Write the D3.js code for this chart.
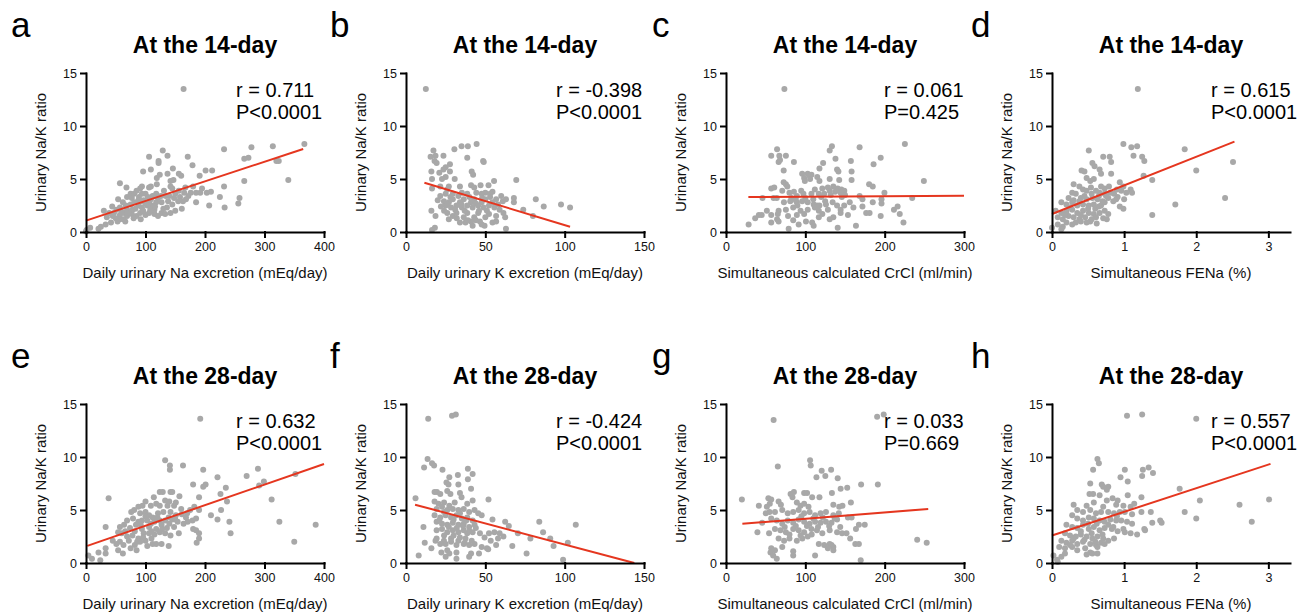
<!DOCTYPE html>
<html>
<head>
<meta charset="utf-8">
<script src="https://cdn.jsdelivr.net/npm/d3@7"></script>
<style>
  body { margin: 0; background: #fff; }
  svg { font-family: "Liberation Sans", Arial, Helvetica, sans-serif; }
</style>
</head>
<body>
<div id="chart"></div>
<script>
// ---- data: [x, urinary Na/K ratio] ----
const na14 = [[164,13.5],[367,8.3],[314,8.1],[278,8.0],[273,7.0],[266,6.9],[324,6.7],[320,6.7],[340,4.9],[266,4.8],[232,7.8],[232,4.3],[258,3.2],[256,2.7],[233,2.3],[225,3.3],[212,5.8],[201,5.8],[207,2.5],[191,5.3],[210,3.8],[203,3.7],[192,3.7],[185,3.7],[185,2.8],[179,6.3],[171,7.1],[137,7.2],[129,7.7],[106,7.1],[122,6.7],[122,6.5],[96,5.7],[109,5.9],[146,6.0],[156,5.5],[124,5.4],[119,5.1],[137,5.5],[142,4.8],[147,4.9],[160,5.3],[57,4.6],[68,4.2],[94,4.3],[91,4.1],[109,4.3],[106,4.2],[119,4.5],[142,4.3],[145,4.1],[156,3.9],[167,4.2],[165,3.7],[176,3.7],[75,3.6],[81,3.6],[69,3.3],[77,3.2],[89,3.3],[100,3.6],[118,3.6],[131,3.9],[134,3.4],[148,3.2],[158,3.3],[163,2.9],[168,3.1],[145,2.6],[161,2.2],[136,2.3],[127,2.8],[112,2.5],[106,2.8],[94,2.9],[81,2.8],[67,2.5],[57,2.3],[51,2.1],[30,2.0],[39,1.8],[47,1.8],[57,1.6],[64,1.8],[69,1.5],[77,1.7],[85,1.5],[91,1.8],[100,1.6],[106,1.8],[115,1.7],[121,1.5],[127,1.8],[133,1.7],[142,1.8],[94,2.3],[103,2.5],[57,1.2],[63,1.2],[50,1.3],[42,0.9],[33,0.7],[25,0.5],[21,0.3],[7,0.4],[1,0.2],[0,0.05],[69,2.1],[78,2.1],[88,2.5],[118,2.8],[121,3.2],[109,3.1],[94,3.6],[85,3.9],[54,3.1],[62,2.8],[115,2.1],[72,1.8],[60,1.9],[83,2.2],[96,2.0],[108,2.1],[45,1.5],[88,3.0],[100,2.7],[112,3.4],[35,1.4],[44,2.4],[53,1.0],[66,1.0],[75,2.6],[80,1.3],[92,1.2],[97,3.0],[104,3.3],[116,2.4],[126,3.4],[138,2.9],[150,3.6],[155,2.9],[140,3.4],[130,2.2],[150,2.0],[172,3.4],[180,4.3],[195,4.1]];
const k14 = [[12.5,13.5],[44.5,8.3],[39,8.1],[35,8.1],[30.5,7.8],[17.3,7.7],[23.6,7.2],[18.6,7.2],[15.5,7.1],[38.6,7.0],[48.6,6.7],[49,6.6],[18,6.7],[19.3,6.5],[27.7,6.4],[25,6.1],[23.6,5.9],[21,5.6],[16,5.7],[27.7,5.7],[41.4,5.7],[42.3,5.4],[25,5.2],[22.7,5.0],[16.4,5.0],[30.7,5.0],[69.5,4.9],[55.5,4.8],[52,4.4],[47,4.4],[41,4.4],[43,4.2],[34,4.3],[27,4.3],[26,4.0],[21.6,4.3],[16.4,4.1],[54.5,3.8],[53,3.6],[50,3.7],[47.7,3.6],[44.3,3.7],[38.6,3.6],[35.2,3.7],[29.5,3.6],[25,3.6],[21.6,3.4],[68,3.2],[63,3.1],[81.8,3.1],[97.7,2.6],[103.4,2.3],[86.8,2.4],[73.9,2.1],[68,2.8],[61,2.9],[56.8,3.1],[54.5,2.8],[50,3.1],[47.7,2.8],[43,3.1],[41,2.8],[36.4,3.1],[34,2.8],[29.5,3.1],[27,2.8],[23.9,2.9],[25,2.5],[28.4,2.3],[31.8,2.5],[35.2,2.3],[38.6,2.5],[42,2.3],[45.5,2.5],[48.9,2.3],[52.3,2.5],[55.7,2.3],[59,2.1],[61.4,1.8],[80,1.5],[62.5,1.4],[56.8,1.5],[52.3,1.7],[50,1.4],[45.5,1.8],[43,1.4],[38.6,1.8],[36.4,1.4],[31.8,1.8],[29.5,1.5],[26,1.8],[34,0.9],[37.5,0.9],[42,0.6],[47.7,0.7],[49.5,0.6],[54.5,0.9],[63,0.3],[16,2.0],[18.6,1.5],[18.2,0.4],[16.4,0.2],[27,1.2],[41,1.0],[46.6,1.0],[56.8,1.0],[20,3.0],[22,2.4],[24,2.0],[26,2.6],[28,3.3],[31,2.1],[33,3.4],[35,2.6],[37,2.0],[40,3.3],[44,2.7],[46,2.0],[48,3.2],[51,2.0],[53,3.3],[58,2.6],[60,3.4],[32,1.3],[39,1.1],[44,1.1]];
const crcl14 = [[73.6,13.5],[225.5,8.3],[168.4,8.0],[133.5,8.1],[130.7,7.7],[64.4,7.8],[57,7.2],[67.2,7.2],[75.5,7.2],[66.3,6.6],[68.1,6.8],[85.6,6.6],[195,7.0],[186,6.4],[157.4,6.7],[138,6.9],[122.4,6.5],[117.8,6.0],[140,5.9],[141.7,5.7],[158.3,5.7],[72.7,5.8],[96,5.5],[103,5.5],[107.7,5.4],[98.5,5.1],[105.4,5.3],[99.4,4.8],[106,5.0],[115,5.2],[117.8,4.8],[130.7,5.0],[142.7,4.9],[158.3,4.9],[249.4,4.8],[180.4,4.5],[185,4.3],[72.7,4.7],[75.5,4.5],[77.3,4.3],[57,4.1],[60.8,4.2],[70.9,3.9],[80,3.7],[85.6,3.8],[94.8,3.9],[97.6,3.6],[112,4.0],[121.4,4.1],[128.4,4.2],[135.3,4.3],[140.8,4.1],[145.4,4.0],[130.7,3.9],[137.6,3.8],[144.5,3.7],[149.1,3.9],[117,3.6],[123.8,3.6],[107.7,3.6],[89.3,3.4],[82.4,3.2],[46,3.2],[60,3.2],[64,3.2],[168.4,3.4],[199.7,3.7],[234.7,3.2],[172,3.1],[185,2.8],[196,3.1],[196,2.7],[73,2.8],[81,2.9],[89.3,2.8],[96,2.9],[103,2.8],[110.5,2.6],[117.8,2.5],[126,2.6],[134.4,2.8],[140,2.5],[149,2.5],[156,2.8],[160.6,2.3],[144.5,2.1],[128.4,2.1],[117,2.0],[103,2.1],[94,2.0],[84.7,2.3],[75.5,2.1],[66.3,2.0],[51.5,2.0],[41.4,1.6],[45,1.6],[36.8,1.3],[57,1.6],[65.3,1.7],[78.2,1.5],[89.3,1.6],[98.5,1.7],[64.4,1.2],[57,0.9],[66.3,1.0],[117,1.4],[130.7,1.2],[135.3,1.4],[144.5,1.8],[153.7,1.6],[172,2.4],[176.7,1.8],[181,1.8],[211.7,2.1],[216.3,2.4],[219,1.7],[223.7,0.9],[195,1.5],[108.6,0.9],[110.5,0.6],[100.8,1.0],[79,0.3],[28.5,0.7],[140.8,0.4],[163.8,0.6],[91.6,0.7],[84.7,1.1],[121.4,1.7],[114.6,2.5],[88,3.0],[100,3.2],[110,3.1],[120,3.3],[132,3.5],[146,3.3],[125,2.9],[112,2.3],[90,2.5],[150,3.5]];
const fena14 = [[1.19,13.5],[0.99,8.3],[1.18,8.1],[1.10,8.0],[1.84,7.8],[0.51,7.7],[0.71,7.1],[0.80,7.1],[1.13,7.2],[1.25,7.1],[1.28,6.7],[0.82,6.6],[2.51,6.6],[0.56,6.5],[0.59,6.2],[2.0,5.8],[0.41,5.8],[0.45,5.7],[0.66,5.9],[0.68,5.5],[0.82,5.5],[1.27,5.3],[1.39,4.9],[0.48,5.1],[0.53,4.8],[0.58,5.0],[0.30,4.5],[0.94,4.7],[0.99,4.3],[0.96,3.9],[1.09,4.0],[1.11,3.7],[0.68,4.3],[0.73,4.1],[0.79,4.3],[0.38,4.3],[0.43,4.0],[0.48,3.9],[0.54,4.2],[0.61,3.9],[0.66,3.7],[0.73,3.6],[0.81,3.7],[0.86,3.6],[0.91,3.3],[0.28,3.7],[0.33,3.6],[0.23,3.2],[0.40,3.2],[0.48,3.1],[0.56,3.2],[0.63,3.1],[0.78,3.2],[0.89,3.1],[1.0,3.1],[1.03,3.7],[0.13,2.8],[0.20,2.6],[0.28,2.8],[0.35,2.5],[0.43,2.6],[0.51,2.5],[0.58,2.6],[0.68,2.5],[0.73,2.8],[0.94,2.4],[0.99,2.2],[1.39,1.6],[1.71,2.6],[2.40,3.2],[0.05,2.0],[0.13,1.8],[0.20,1.9],[0.28,2.1],[0.35,1.8],[0.43,2.0],[0.51,1.8],[0.58,1.7],[0.66,1.8],[0.73,2.0],[0.78,1.7],[0.08,1.4],[0.15,1.2],[0.23,1.5],[0.30,1.4],[0.38,1.2],[0.46,1.4],[0.53,1.0],[0.61,1.4],[0.71,1.3],[0.62,0.8],[0.76,1.2],[0.0,0.4],[0.08,0.7],[0.15,0.5],[0.13,0.25],[0.20,0.9],[0.28,0.7],[0.33,0.9],[0.40,1.0],[0.48,0.9],[0.25,2.3],[0.3,3.0],[0.38,2.9],[0.45,3.4],[0.5,2.2],[0.55,3.6],[0.6,2.2],[0.65,3.4],[0.7,2.9],[0.75,3.4],[0.85,2.9],[0.9,4.0],[0.18,1.6],[0.4,1.6],[0.55,1.2],[0.65,2.4]];
const na28 = [[192,13.6],[133,9.7],[141,9.2],[141,8.8],[163,9.2],[197,8.8],[289,8.9],[270,8.2],[221,8.1],[291,7.3],[299,7.7],[352,8.4],[312,6.0],[325,3.9],[350,2.0],[386,3.6],[201,7.4],[197,7.2],[180,7.4],[190,6.2],[235,7.1],[226,6.5],[237,5.8],[227,5.0],[210,4.5],[221,4.1],[241,3.9],[243,2.8],[190,2.8],[190,2.3],[186,1.9],[180,3.2],[185,3.1],[171,3.9],[179,4.0],[185,4.2],[182,5.3],[190,5.0],[38,6.1],[124,6.7],[129,6.7],[142,6.7],[145,6.7],[114,6.2],[100,5.8],[109,5.4],[88,5.3],[95,5.4],[118,5.6],[124,5.4],[133,5.9],[137,5.4],[148,5.4],[157,6.3],[140,5.8],[151,5.7],[76,4.8],[81,5.0],[91,4.7],[100,4.8],[106,4.5],[112,4.3],[121,4.7],[130,4.8],[142,4.8],[151,4.5],[161,4.6],[170,4.7],[69,4.0],[79,4.2],[88,3.9],[94,4.0],[103,4.0],[109,3.7],[115,3.9],[124,4.0],[133,4.0],[139,4.3],[145,4.1],[154,3.9],[164,3.7],[57,3.4],[64,3.6],[74,3.3],[84,3.6],[94,3.2],[106,3.4],[118,3.2],[127,3.6],[136,3.3],[148,3.4],[33,3.4],[54,2.9],[60,2.8],[69,2.5],[78,2.6],[88,2.3],[97,2.8],[106,2.8],[115,2.7],[124,2.9],[133,2.8],[142,2.6],[156,2.8],[45,2.1],[51,1.8],[57,2.0],[63,1.7],[72,2.1],[82,1.7],[91,2.0],[100,2.1],[112,1.8],[127,1.8],[139,1.6],[33,1.4],[54,1.2],[62,0.9],[103,1.6],[21,1.0],[24,0.25],[10,0.4],[4,0.7],[33,0.9],[75,1.4],[85,1.2],[118,1.8],[66,3.0],[82,3.0],[92,3.6],[100,4.4],[110,3.0],[120,4.3],[128,3.2],[140,3.7],[150,4.1],[160,5.1],[168,4.3],[175,5.0],[86,2.0],[96,2.4],[110,2.3]];
const k28 = [[14,13.6],[29,13.9],[31.4,14.0],[13.6,9.8],[16.4,9.4],[17.7,9.2],[11.4,9.0],[23,8.8],[39,8.9],[42,8.4],[32.7,8.3],[27.3,8.1],[25.5,7.6],[26.8,7.4],[33,7.4],[41,7.0],[39,7.9],[19.5,6.7],[18,6.7],[21.6,6.5],[26,6.8],[28,6.5],[34,6.6],[35,6.2],[6,6.1],[52,6.0],[42,5.9],[38.6,5.6],[18,5.8],[20.5,5.6],[24,5.7],[27.3,5.4],[30.7,5.7],[19.3,5.1],[22.7,5.3],[26,5.0],[29.5,5.1],[33,5.0],[36.4,5.1],[39.8,4.8],[43.2,5.0],[45.5,4.7],[47.7,4.5],[18,4.5],[21.6,4.3],[25,4.5],[28.4,4.3],[31.8,4.5],[35.2,4.2],[38.6,4.3],[42,4.0],[54.5,4.1],[62.5,3.9],[84,3.9],[107,3.6],[19.3,3.9],[22.7,3.7],[26,3.6],[29.5,3.8],[33,3.6],[36.4,3.7],[39.8,3.4],[43.2,3.6],[11,3.4],[64.8,3.5],[19.3,3.1],[22.7,3.2],[26,2.9],[29.5,3.1],[33,2.9],[36.4,3.1],[38.6,2.8],[42,2.9],[46.6,2.8],[52.3,2.8],[55.7,2.9],[59,2.8],[61.4,2.5],[58,2.3],[70.5,2.8],[86.4,2.9],[78.4,2.3],[90.9,2.3],[19.3,2.3],[23.9,2.1],[28.4,2.3],[33,2.1],[37.5,2.3],[41.4,2.1],[49.5,2.4],[53.4,2.1],[102,1.9],[93,1.6],[11.8,1.9],[18.6,2.1],[21.6,1.8],[25,1.8],[28.4,2.0],[31.8,1.7],[36.4,1.8],[39.8,1.7],[43.2,1.8],[47.7,1.5],[51,1.4],[56.8,1.7],[67,1.6],[22.3,1.0],[26,1.2],[31.8,1.0],[41,0.9],[46,0.9],[51.8,1.3],[76,0.9],[16,1.4],[31.8,0.4],[39.8,0.6],[8,0.7],[99,0.3],[25,0.6],[27.3,0.9],[21,4.0],[24,4.8],[27,3.4],[30,4.1],[32,3.3],[34,4.7],[36,3.5],[38,4.0],[40,3.0],[44,3.3],[30,2.6],[34,2.4],[37,1.9],[24,2.6]];
const crcl28 = [[60,13.5],[190.5,13.8],[198.8,14.0],[106,9.7],[106.8,9.2],[65.3,9.1],[120.6,8.7],[114,8.1],[132.5,8.8],[125.2,8.2],[140.8,8.0],[144.5,7.0],[152.8,7.1],[170.3,7.4],[191.4,7.4],[133.5,6.6],[157.4,5.7],[241,2.2],[253,1.9],[20,6.0],[41.4,5.4],[53.4,6.1],[57,6.0],[66.3,5.8],[69.2,5.5],[81.4,6.5],[85.6,6.7],[83.8,6.2],[98.5,6.6],[102.2,6.6],[108.6,6.2],[117.8,6.2],[89.3,5.7],[93.9,5.4],[98.5,5.6],[104,5.3],[135.3,5.5],[142.7,5.3],[146.8,5.4],[55.2,5.6],[51.5,5.3],[54.8,4.8],[50.2,4.7],[61.7,4.8],[70.9,5.0],[77.8,4.7],[84.7,4.8],[91.6,5.0],[98.5,4.7],[105.4,4.8],[112.3,4.5],[119.2,4.7],[126,4.8],[135.3,4.5],[142.2,4.7],[153.7,4.3],[158.3,4.3],[45.6,3.8],[57,4.2],[64,4.0],[70.9,3.7],[77.8,4.0],[84.7,3.8],[91.6,4.1],[98.5,3.9],[105.4,3.7],[112.3,3.9],[119.2,3.8],[126,3.9],[133,3.8],[140,4.1],[167.5,3.6],[174.9,3.6],[163.8,3.2],[39.6,2.9],[54.3,2.8],[61.7,3.2],[68.6,3.1],[75.5,2.9],[84.7,3.2],[91.6,3.1],[98.5,2.9],[107.7,3.2],[114.6,3.1],[121.4,2.8],[130.7,3.1],[140,2.9],[146.3,2.8],[151.9,2.8],[66.3,2.3],[73.2,2.1],[80,2.3],[89.3,2.1],[96.2,2.3],[103,2.5],[117,1.8],[123.8,1.7],[130.7,1.8],[135.3,1.5],[156.5,2.3],[163,1.8],[167.5,1.8],[57,1.4],[61.7,1.2],[56.1,1.0],[70.9,1.5],[84.7,1.1],[59.4,0.7],[64,0.4],[84.7,0.7],[112.3,0.7],[133,1.7],[128.4,1.4],[135.3,1.2],[169.8,0.25],[74,3.4],[88,3.5],[95,4.4],[102,3.5],[110,4.2],[116,3.4],[122,4.3],[130,3.5],[137,4.2],[144,3.4],[80,2.7],[94,2.6],[108,2.7]];
const fena28 = [[1.04,13.9],[1.25,14.0],[2.0,13.6],[0.63,9.8],[0.65,9.4],[0.57,8.8],[1.01,8.8],[1.34,9.0],[1.26,8.8],[1.25,8.2],[1.40,8.5],[0.95,8.1],[1.05,7.7],[1.77,7.0],[0.53,7.5],[0.69,7.4],[0.71,7.2],[0.52,6.5],[0.57,6.5],[1.05,6.4],[1.24,6.2],[0.78,7.2],[0.76,6.9],[0.66,6.4],[0.76,5.9],[2.05,5.9],[3.01,6.0],[2.6,5.5],[0.84,6.1],[0.91,5.9],[0.89,5.5],[0.48,5.4],[0.58,5.7],[0.71,5.3],[0.30,5.5],[0.99,5.4],[1.09,5.3],[1.14,5.6],[0.35,5.0],[0.43,4.8],[0.53,5.0],[0.61,4.7],[0.68,4.8],[0.78,4.8],[0.86,4.7],[0.94,4.8],[1.01,4.8],[1.11,4.6],[1.24,4.8],[1.37,4.8],[1.84,4.8],[2.0,4.2],[2.77,3.9],[1.39,3.8],[1.50,4.0],[1.52,3.8],[1.29,3.1],[1.28,3.2],[0.28,4.5],[0.35,4.2],[0.43,4.0],[0.51,4.3],[0.58,4.2],[0.66,4.0],[0.73,3.9],[0.81,4.1],[0.89,4.0],[0.96,4.0],[1.04,3.9],[1.11,3.7],[0.20,3.6],[0.28,3.4],[0.35,3.3],[0.43,3.6],[0.51,3.2],[0.58,3.4],[0.66,3.1],[0.73,3.3],[0.83,3.2],[0.91,3.0],[0.99,3.2],[1.01,2.9],[1.09,2.8],[1.18,2.7],[0.18,2.8],[0.25,2.6],[0.33,2.5],[0.40,2.7],[0.48,2.5],[0.56,2.3],[0.63,2.5],[0.71,2.3],[0.78,2.1],[0.86,2.3],[0.13,2.1],[0.20,1.9],[0.28,2.1],[0.35,1.8],[0.43,2.0],[0.53,1.8],[0.61,1.7],[0.68,1.9],[0.73,1.8],[0.10,1.5],[0.18,1.4],[0.28,1.5],[0.35,1.2],[0.46,1.4],[0.53,1.0],[0.63,1.5],[0.56,0.9],[0.02,0.7],[0.07,0.3],[0.13,0.6],[0.18,0.9],[0.08,0.1],[0.48,0.8],[0.63,0.9],[0.4,3.0],[0.5,3.7],[0.55,2.8],[0.62,3.7],[0.7,2.7],[0.78,3.6],[0.85,3.4],[0.9,4.4],[0.3,2.3],[0.45,2.2],[0.6,2.0],[0.25,1.7]];

// regression line end points [x, y]
const fits = [
  [[0,1.07],[365,7.83]], [[11.6,4.65],[103.4,0.5]], [[28.2,3.3],[300,3.42]], [[0,1.7],[2.53,8.53]],
  [[2.2,1.62],[400,9.34]], [[5.7,5.5],[143.9,0]], [[20.6,3.7],[254.9,5.1]], [[0,2.6],[3.03,9.35]]
];

const panelPoints = [na14, k14, crcl14, fena14, na28, k28, crcl28, fena28];
const letters = ["a", "b", "c", "d", "e", "f", "g", "h"];
const titles = ["At the 14-day", "At the 28-day"];
const xLabels = ["Daily urinary Na excretion (mEq/day)", "Daily urinary K excretion (mEq/day)",
                 "Simultaneous calculated CrCl (ml/min)", "Simultaneous FENa (%)"];
const yLabel = "Urinary Na/K ratio";
const xDomains = [[0, 400], [0, 150], [0, 300], [0, 3.3]];
const xTicks = [[0, 100, 200, 300, 400], [0, 50, 100, 150], [0, 100, 200, 300], [0, 1, 2, 3]];
const yTicks = [0, 5, 10, 15];
const rTexts = ["r = 0.711", "r = -0.398", "r = 0.061", "r = 0.615",
                "r = 0.632", "r = -0.424", "r = 0.033", "r = 0.557"];
const pTexts = ["P<0.0001", "P<0.0001", "P=0.425", "P<0.0001",
                "P<0.0001", "P<0.0001", "P=0.669", "P<0.0001"];

// layout
const WIDTH = 1309, HEIGHT = 616;
const PLOT_W = 238, PLOT_H = 159;
const COL_X = [86, 406, 726, 1052];      // y-axis position per column
const ROW_TOP = [73, 404];                // top of plot per row
const LETTER_X = [11, 330, 652, 971];
const STAT_DX = [150, 150, 158, 159];

const svg = d3.select("#chart").append("svg")
  .attr("width", WIDTH)
  .attr("height", HEIGHT);

const yScale = d3.scaleLinear().domain([0, 15]).range([PLOT_H, 0]);
const tickFmt = d3.format("~g");

panelPoints.forEach((pts, i) => {
  const col = i % 4, row = Math.floor(i / 4);
  const g = svg.append("g")
    .attr("transform", "translate(" + COL_X[col] + "," + ROW_TOP[row] + ")");

  const xScale = d3.scaleLinear().domain(xDomains[col]).range([0, PLOT_W]);

  // points
  g.selectAll("circle")
    .data(pts)
    .enter()
    .append("circle")
    .attr("cx", (d) => xScale(d[0]))
    .attr("cy", (d) => yScale(d[1]))
    .attr("r", 3)
    .attr("fill", "#a8a8a8");

  // fitted line
  g.append("path")
    .datum(fits[i])
    .attr("d", d3.line().x((d) => xScale(d[0])).y((d) => yScale(d[1])))
    .attr("stroke", "#e5361f")
    .attr("stroke-width", 2)
    .attr("fill", "none");

  // axes
  const xAxis = g.append("g")
    .attr("transform", "translate(0," + PLOT_H + ")")
    .call(d3.axisBottom(xScale).tickValues(xTicks[col]).tickFormat(tickFmt)
      .tickSize(5).tickSizeOuter(0).tickPadding(5));
  const yAxis = g.append("g")
    .call(d3.axisLeft(yScale).tickValues(yTicks).tickFormat(tickFmt)
      .tickSize(5).tickSizeOuter(0).tickPadding(4));

  [xAxis, yAxis].forEach((ax) => {
    ax.attr("font-family", null).attr("font-size", null);
    ax.selectAll("path, line").attr("stroke", "#000").attr("stroke-width", 2).attr("stroke-linecap", "square");
    ax.selectAll("text").attr("font-size", "12.5px").attr("fill", "#111");
  });

  // axis titles
  g.append("text")
    .attr("x", PLOT_W / 2)
    .attr("y", PLOT_H + 46)
    .attr("text-anchor", "middle")
    .attr("font-size", "15px")
    .attr("fill", "#111")
    .text(xLabels[col]);

  g.append("text")
    .attr("transform", "translate(-40.5," + (PLOT_H / 2) + ") rotate(-90)")
    .attr("text-anchor", "middle")
    .attr("font-size", "15px")
    .attr("fill", "#111")
    .text(yLabel);

  // panel title
  g.append("text")
    .attr("x", PLOT_W / 2)
    .attr("y", -20)
    .attr("text-anchor", "middle")
    .attr("font-size", "23px")
    .attr("font-weight", "bold")
    .attr("fill", "#000")
    .text(titles[row]);

  // r and P
  g.append("text")
    .attr("x", STAT_DX[col])
    .attr("y", 24)
    .attr("font-size", "20px")
    .attr("fill", "#000")
    .text(rTexts[i]);
  g.append("text")
    .attr("x", STAT_DX[col])
    .attr("y", 45.5)
    .attr("font-size", "20px")
    .attr("fill", "#000")
    .text(pTexts[i]);

  // panel letter
  svg.append("text")
    .attr("x", LETTER_X[col])
    .attr("y", ROW_TOP[row] - 36.5)
    .attr("font-size", "35px")
    .attr("fill", "#000")
    .text(letters[i]);
});
</script>
</body>
</html>
